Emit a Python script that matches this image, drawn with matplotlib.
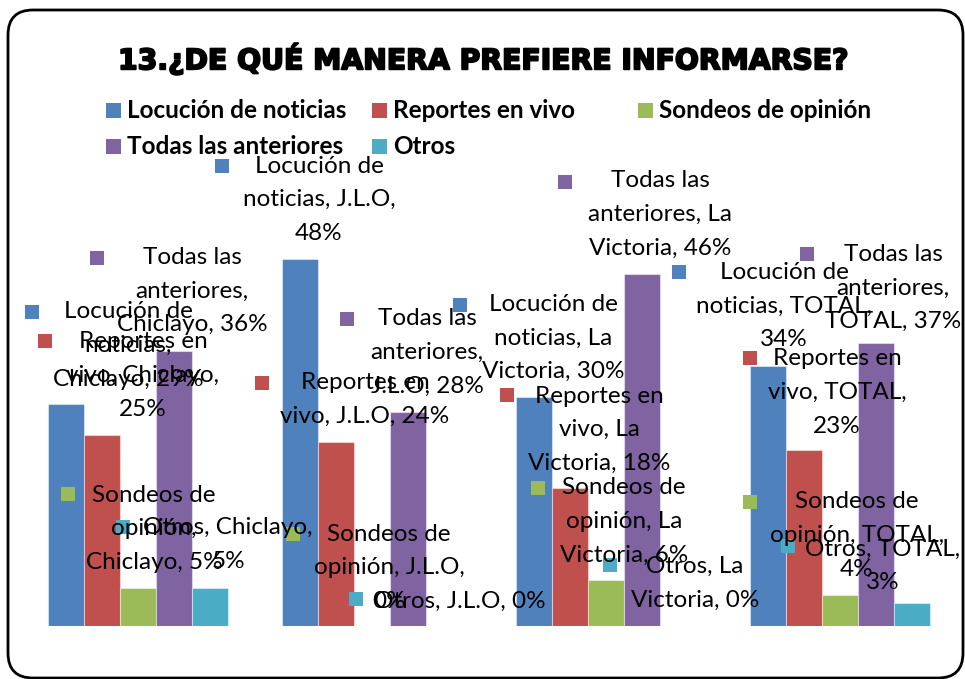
import matplotlib
matplotlib.use('Agg')
import matplotlib.pyplot as plt
from matplotlib.patches import FancyBboxPatch, Rectangle
from matplotlib.transforms import offset_copy
import matplotlib.patheffects as pe
import numpy as np

# ---------------- data ----------------
categories = ['Chiclayo', 'J.L.O', 'La Victoria', 'TOTAL']
series_names = ['Locución de noticias', 'Reportes en vivo', 'Sondeos de opinión',
                'Todas las anteriores', 'Otros']
locucion = [29, 48, 30, 34]
reportes = [25, 24, 18, 23]
sondeos = [5, 0, 6, 4]
todas = [36, 28, 46, 37]
otros = [5, 0, 0, 3]
title = '13.¿DE QUÉ MANERA PREFIERE INFORMARSE?'

series_values = [locucion, reportes, sondeos, todas, otros]
colors = ['#4F81BD', '#C0504D', '#9BBB59', '#8064A2', '#4BACC6']

# label layout: (text dx, text dy, key dx, key dy) in pixels from bar top, and words per line
label_layout = [
    [(62, 58.5, -34, 92), (19, 59, -78, 93), (19, 58.5, -74, 92), (16, 60, -89, 94)],
    [(41, 59, -57, 94), (29, 43, -74, 59), (29, 58.5, -63, 93), (33, 57.5, -54, 92)],
    [(16, 59, -70, 94), (17, 58, -79, 92), (18, 58.5, -68, 92), (17, 60, -90, 93)],
    [(18, 59.5, -77, 93), (19, 59.5, -61, 93), (18, 59.5, -77, 92), (17, 55, -69, 89)],
    [(18, 43.5, -87, 61), (16, 25, -88, 27), (17, 42.5, -68, 61), (-29, 37, -124, 57)],
]
line_words = [
    [[2, 1, 2], [2, 2, 1], [2, 2, 2], [2, 2, 1]],
    [[2, 2, 1], [2, 3], [2, 2, 2], [2, 2, 1]],
    [[2, 1, 2], [2, 2, 1], [2, 2, 2], [2, 2, 1]],
    [[2, 1, 2], [2, 1, 2], [2, 2, 2], [2, 1, 2]],
    [[2, 1], [3], [2, 2], [2, 1]],
]

W, H = 965, 679
fig = plt.figure(figsize=(W / 100, H / 100), dpi=100)
fig.patch.set_facecolor('white')

ax = fig.add_axes([21 / W, (H - 626) / H, 936 / W, 459 / H])
ax.set_xlim(-0.5, len(categories) - 0.5)
ax.set_ylim(0, 60)
ax.axis('off')

x = np.arange(len(categories))
bw = 36 / 234
n = len(series_names)

label_font = dict(family=['Lato', 'DejaVu Sans'], size=17.5)

for j, (name, vals, col) in enumerate(zip(series_names, series_values, colors)):
    xs = x + (j - (n - 1) / 2) * bw
    ax.bar(xs, vals, width=bw, color=col, edgecolor=(1, 1, 1, 0.45), linewidth=0.8,
           zorder=2)
    for i, (xi, v) in enumerate(zip(xs, vals)):
        tdx, tdy, mdx, mdy = label_layout[j][i]
        words = f'{name}, {categories[i]}, {v}%'.split(' ')
        lines, k = [], 0
        for cnt in line_words[j][i]:
            lines.append(' '.join(words[k:k + cnt]))
            k += cnt
        ax.annotate('\n'.join(lines), xy=(xi, v), xytext=(tdx, tdy),
                    textcoords='offset pixels', ha='center', va='center',
                    multialignment='center', linespacing=1.75, color='black',
                    zorder=5, annotation_clip=False, **label_font)
        tr = offset_copy(ax.transData, fig=fig, x=mdx, y=mdy, units='dots')
        ax.plot([xi], [v], marker='s', ms=10.5, color=col, mec=col, mew=0,
                transform=tr, zorder=4, clip_on=False)

# title
t = fig.text(484 / W, 1 - 59 / H, title, ha='center', va='center',
             fontsize=22, fontweight='bold', family='DejaVu Sans', color='black',
             path_effects=[pe.withStroke(linewidth=1.4, foreground='black')])
fig.canvas.draw()
bb = t.get_window_extent()
t.set_fontsize(22 * 728 / bb.width)

# legend (Excel-style equal columns)
leg_cols = [106, 372, 638]
leg_rows = [110, 146]
for j, (name, col) in enumerate(zip(series_names, colors)):
    r, c = divmod(j, 3)
    lx, ly = leg_cols[c], leg_rows[r]
    fig.add_artist(Rectangle((lx, H - ly - 7.5), 15, 15, transform=None,
                             facecolor=col, edgecolor='none'))
    fig.text((lx + 21) / W, 1 - (ly + 1) / H, name, ha='left', va='center',
             fontsize=17.5, fontweight='bold', family=['Lato', 'DejaVu Sans'])

# rounded border
fig.add_artist(FancyBboxPatch((8, 1), 955, 668, transform=None,
                              boxstyle='round,pad=0,rounding_size=25',
                              facecolor='none', edgecolor='black', linewidth=2))

fig.savefig('out.png', dpi=100)
